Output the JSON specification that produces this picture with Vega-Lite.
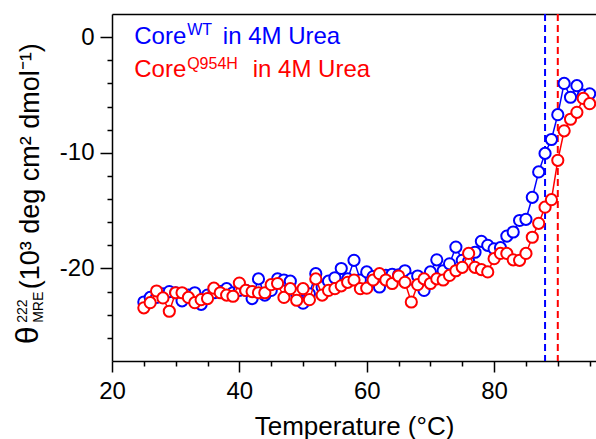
{
  "$schema": "https://vega.github.io/schema/vega-lite/v6.json",
  "width": 484,
  "height": 347,
  "autosize": {"type": "none"},
  "padding": {"left": 112, "top": 14, "right": 0, "bottom": 78},
  "background": "white",
  "config": {
    "view": {"stroke": null},
    "font": "Liberation Sans",
    "axis": {
      "labelFont": "Liberation Sans",
      "titleFont": "Liberation Sans",
      "labelFontSize": 24,
      "titleFontSize": 26,
      "titleFontWeight": "normal",
      "labelColor": "black",
      "titleColor": "black",
      "tickColor": "black",
      "tickWidth": 1.5,
      "domain": false,
      "domainColor": "black",
      "domainWidth": 1.5,
      "grid": false,
      "labelFlush": false
    }
  },
  "datasets": {
    "cd": [
      {"series": "WT", "t": 25, "v": -22.9}, {"series": "WT", "t": 26, "v": -22.5}, {"series": "WT", "t": 27, "v": -22.5}, {"series": "WT", "t": 28, "v": -22.2}, {"series": "WT", "t": 29, "v": -22.0}, {"series": "WT", "t": 30, "v": -22.1}, {"series": "WT", "t": 31, "v": -22.8}, {"series": "WT", "t": 32, "v": -22.3}, {"series": "WT", "t": 33, "v": -22.1}, {"series": "WT", "t": 34, "v": -23.1}, {"series": "WT", "t": 35, "v": -22.3}, {"series": "WT", "t": 36, "v": -22.1}, {"series": "WT", "t": 37, "v": -22.0}, {"series": "WT", "t": 38, "v": -21.75}, {"series": "WT", "t": 39, "v": -22.1}, {"series": "WT", "t": 40, "v": -21.9}, {"series": "WT", "t": 41, "v": -21.9}, {"series": "WT", "t": 42, "v": -22.6}, {"series": "WT", "t": 43, "v": -20.9}, {"series": "WT", "t": 44, "v": -22.3}, {"series": "WT", "t": 45, "v": -21.9}, {"series": "WT", "t": 46, "v": -20.9}, {"series": "WT", "t": 47, "v": -21.0}, {"series": "WT", "t": 48, "v": -21.1}, {"series": "WT", "t": 49, "v": -22.2}, {"series": "WT", "t": 50, "v": -23.0}, {"series": "WT", "t": 51, "v": -22.2}, {"series": "WT", "t": 52, "v": -20.45}, {"series": "WT", "t": 53, "v": -21.6}, {"series": "WT", "t": 54, "v": -21.1}, {"series": "WT", "t": 55, "v": -20.8}, {"series": "WT", "t": 56, "v": -20.0}, {"series": "WT", "t": 57, "v": -20.9}, {"series": "WT", "t": 58, "v": -19.3}, {"series": "WT", "t": 59, "v": -21.0}, {"series": "WT", "t": 60, "v": -20.3}, {"series": "WT", "t": 61, "v": -20.7}, {"series": "WT", "t": 62, "v": -21.6}, {"series": "WT", "t": 63, "v": -20.6}, {"series": "WT", "t": 64, "v": -20.5}, {"series": "WT", "t": 65, "v": -20.55}, {"series": "WT", "t": 66, "v": -20.2}, {"series": "WT", "t": 67, "v": -20.9}, {"series": "WT", "t": 68, "v": -20.65}, {"series": "WT", "t": 69, "v": -21.9}, {"series": "WT", "t": 70, "v": -20.3}, {"series": "WT", "t": 71, "v": -19.25}, {"series": "WT", "t": 72, "v": -20.2}, {"series": "WT", "t": 73, "v": -19.6}, {"series": "WT", "t": 74, "v": -18.15}, {"series": "WT", "t": 75, "v": -19.3}, {"series": "WT", "t": 76, "v": -19.4}, {"series": "WT", "t": 77, "v": -18.6}, {"series": "WT", "t": 78, "v": -17.65}, {"series": "WT", "t": 79, "v": -18.0}, {"series": "WT", "t": 80, "v": -18.3}, {"series": "WT", "t": 81, "v": -18.2}, {"series": "WT", "t": 82, "v": -17.2}, {"series": "WT", "t": 83, "v": -16.85}, {"series": "WT", "t": 84, "v": -15.85}, {"series": "WT", "t": 85, "v": -15.75}, {"series": "WT", "t": 86, "v": -13.85}, {"series": "WT", "t": 87, "v": -11.65}, {"series": "WT", "t": 88, "v": -10.05}, {"series": "WT", "t": 89, "v": -8.85}, {"series": "WT", "t": 90, "v": -6.7}, {"series": "WT", "t": 91, "v": -4.0}, {"series": "WT", "t": 92, "v": -5.2}, {"series": "WT", "t": 93, "v": -4.2}, {"series": "WT", "t": 94, "v": -5.0}, {"series": "WT", "t": 95, "v": -4.9},
      {"series": "Q954H", "t": 25, "v": -23.4}, {"series": "Q954H", "t": 26, "v": -22.96}, {"series": "Q954H", "t": 27, "v": -21.95}, {"series": "Q954H", "t": 28, "v": -22.55}, {"series": "Q954H", "t": 29, "v": -23.7}, {"series": "Q954H", "t": 30, "v": -22.1}, {"series": "Q954H", "t": 31, "v": -22.1}, {"series": "Q954H", "t": 32, "v": -22.5}, {"series": "Q954H", "t": 33, "v": -22.96}, {"series": "Q954H", "t": 34, "v": -22.7}, {"series": "Q954H", "t": 35, "v": -22.6}, {"series": "Q954H", "t": 36, "v": -21.7}, {"series": "Q954H", "t": 37, "v": -22.1}, {"series": "Q954H", "t": 38, "v": -22.3}, {"series": "Q954H", "t": 39, "v": -22.4}, {"series": "Q954H", "t": 40, "v": -21.26}, {"series": "Q954H", "t": 41, "v": -21.9}, {"series": "Q954H", "t": 42, "v": -22.0}, {"series": "Q954H", "t": 43, "v": -22.1}, {"series": "Q954H", "t": 44, "v": -22.1}, {"series": "Q954H", "t": 45, "v": -21.4}, {"series": "Q954H", "t": 46, "v": -21.3}, {"series": "Q954H", "t": 47, "v": -22.5}, {"series": "Q954H", "t": 48, "v": -21.75}, {"series": "Q954H", "t": 49, "v": -22.75}, {"series": "Q954H", "t": 50, "v": -21.75}, {"series": "Q954H", "t": 51, "v": -22.7}, {"series": "Q954H", "t": 52, "v": -20.9}, {"series": "Q954H", "t": 53, "v": -22.3}, {"series": "Q954H", "t": 54, "v": -21.9}, {"series": "Q954H", "t": 55, "v": -21.75}, {"series": "Q954H", "t": 56, "v": -21.5}, {"series": "Q954H", "t": 57, "v": -21.2}, {"series": "Q954H", "t": 58, "v": -21.0}, {"series": "Q954H", "t": 59, "v": -21.75}, {"series": "Q954H", "t": 60, "v": -21.7}, {"series": "Q954H", "t": 61, "v": -21.0}, {"series": "Q954H", "t": 62, "v": -20.45}, {"series": "Q954H", "t": 63, "v": -21.0}, {"series": "Q954H", "t": 64, "v": -21.3}, {"series": "Q954H", "t": 65, "v": -20.65}, {"series": "Q954H", "t": 66, "v": -21.2}, {"series": "Q954H", "t": 67, "v": -22.9}, {"series": "Q954H", "t": 68, "v": -21.4}, {"series": "Q954H", "t": 69, "v": -20.9}, {"series": "Q954H", "t": 70, "v": -21.3}, {"series": "Q954H", "t": 71, "v": -20.9}, {"series": "Q954H", "t": 72, "v": -21.0}, {"series": "Q954H", "t": 73, "v": -20.6}, {"series": "Q954H", "t": 74, "v": -20.2}, {"series": "Q954H", "t": 75, "v": -19.9}, {"series": "Q954H", "t": 76, "v": -18.7}, {"series": "Q954H", "t": 77, "v": -19.9}, {"series": "Q954H", "t": 78, "v": -20.1}, {"series": "Q954H", "t": 79, "v": -20.3}, {"series": "Q954H", "t": 80, "v": -19.15}, {"series": "Q954H", "t": 81, "v": -18.7}, {"series": "Q954H", "t": 82, "v": -18.7}, {"series": "Q954H", "t": 83, "v": -19.25}, {"series": "Q954H", "t": 84, "v": -19.3}, {"series": "Q954H", "t": 85, "v": -18.7}, {"series": "Q954H", "t": 86, "v": -17.3}, {"series": "Q954H", "t": 87, "v": -16.1}, {"series": "Q954H", "t": 88, "v": -14.7}, {"series": "Q954H", "t": 89, "v": -14.05}, {"series": "Q954H", "t": 90, "v": -10.65}, {"series": "Q954H", "t": 91, "v": -8.1}, {"series": "Q954H", "t": 92, "v": -7.1}, {"series": "Q954H", "t": 93, "v": -6.5}, {"series": "Q954H", "t": 94, "v": -5.3}, {"series": "Q954H", "t": 95, "v": -5.75}
    ],
    "one": [{}]
  },
  "data": {"name": "cd"},
  "resolve": {"axis": {"x": "independent", "y": "independent"}},
  "layer": [
    {
      "data": {"name": "one"},
      "mark": {"type": "rule", "stroke": "#0000ff", "strokeWidth": 2, "strokeDash": [7, 4]},
      "encoding": {"x": {"datum": 88, "type": "quantitative", "scale": {"domain": [20, 96], "nice": false, "zero": false}, "axis": null}}
    },
    {
      "data": {"name": "one"},
      "mark": {"type": "rule", "stroke": "#ff0000", "strokeWidth": 2, "strokeDash": [7, 4]},
      "encoding": {"x": {"datum": 90, "type": "quantitative", "scale": {"domain": [20, 96], "nice": false, "zero": false}, "axis": null}}
    },
    {
      "transform": [{"filter": "datum.series === 'WT'"}],
      "mark": {"type": "line", "stroke": "#0000ff", "strokeWidth": 1.5},
      "encoding": {
        "x": {"field": "t", "type": "quantitative", "scale": {"domain": [20, 96], "nice": false, "zero": false},
              "axis": {"orient": "bottom", "values": [20, 40, 60, 80], "tickSize": 11, "labelPadding": 7, "title": "Temperature (°C)", "titlePadding": 10, "domain": true}},
        "y": {"field": "v", "type": "quantitative", "scale": {"domain": [-28, 2], "nice": false, "zero": false},
              "axis": {"orient": "left", "values": [-20, -10, 0], "tickSize": 12, "labelPadding": 6, "title": null, "domain": true, "labelExpr": "replace(datum.label, '−', '-')"}}
      }
    },
    {
      "transform": [{"filter": "datum.series === 'WT'"}],
      "mark": {"type": "point", "shape": "circle", "size": 125, "strokeWidth": 2, "stroke": "#0000ff", "fill": "white", "opacity": 1, "fillOpacity": 1},
      "encoding": {
        "x": {"field": "t", "type": "quantitative", "scale": {"domain": [20, 96], "nice": false, "zero": false},
              "axis": {"orient": "bottom", "values": [25, 30, 35, 45, 50, 55, 65, 70, 75, 85, 90, 95], "tickSize": 5, "labels": false, "title": null}},
        "y": {"field": "v", "type": "quantitative", "scale": {"domain": [-28, 2], "nice": false, "zero": false},
              "axis": {"orient": "left", "values": [-26, -24, -22, -18, -16, -14, -12, -8, -6, -4, -2], "tickSize": 5, "labels": false, "title": null}}
      }
    },
    {
      "transform": [{"filter": "datum.series === 'Q954H'"}],
      "mark": {"type": "line", "stroke": "#ff0000", "strokeWidth": 1.5},
      "encoding": {
        "x": {"field": "t", "type": "quantitative", "scale": {"domain": [20, 96], "nice": false, "zero": false},
              "axis": {"orient": "top", "ticks": false, "labels": false, "title": null, "domain": true}},
        "y": {"field": "v", "type": "quantitative", "scale": {"domain": [-28, 2], "nice": false, "zero": false}, "axis": null}
      }
    },
    {
      "transform": [{"filter": "datum.series === 'Q954H'"}],
      "mark": {"type": "point", "shape": "circle", "size": 125, "strokeWidth": 2, "stroke": "#ff0000", "fill": "white", "opacity": 1, "fillOpacity": 1},
      "encoding": {
        "x": {"field": "t", "type": "quantitative", "scale": {"domain": [20, 96], "nice": false, "zero": false}, "axis": null},
        "y": {"field": "v", "type": "quantitative", "scale": {"domain": [-28, 2], "nice": false, "zero": false}, "axis": null}
      }
    },
    {
      "data": {"name": "one"},
      "mark": {"type": "text", "text": "Core", "fontSize": 24, "fill": "#0000ff", "align": "left", "baseline": "alphabetic"},
      "encoding": {"x": {"datum": 23.5, "type": "quantitative", "axis": null}, "y": {"datum": -0.57, "type": "quantitative", "axis": null}}
    },
    {
      "data": {"name": "one"},
      "mark": {"type": "text", "text": "WT", "fontSize": 16, "fill": "#0000ff", "align": "left", "baseline": "alphabetic"},
      "encoding": {"x": {"datum": 31.8, "type": "quantitative", "axis": null}, "y": {"datum": 0.17, "type": "quantitative", "axis": null}}
    },
    {
      "data": {"name": "one"},
      "mark": {"type": "text", "text": "in 4M Urea", "fontSize": 24, "fill": "#0000ff", "align": "left", "baseline": "alphabetic"},
      "encoding": {"x": {"datum": 37.4, "type": "quantitative", "axis": null}, "y": {"datum": -0.57, "type": "quantitative", "axis": null}}
    },
    {
      "data": {"name": "one"},
      "mark": {"type": "text", "text": "Core", "fontSize": 24, "fill": "#ff0000", "align": "left", "baseline": "alphabetic"},
      "encoding": {"x": {"datum": 23.5, "type": "quantitative", "axis": null}, "y": {"datum": -3.46, "type": "quantitative", "axis": null}}
    },
    {
      "data": {"name": "one"},
      "mark": {"type": "text", "text": "Q954H", "fontSize": 16, "fill": "#ff0000", "align": "left", "baseline": "alphabetic"},
      "encoding": {"x": {"datum": 31.8, "type": "quantitative", "axis": null}, "y": {"datum": -2.79, "type": "quantitative", "axis": null}}
    },
    {
      "data": {"name": "one"},
      "mark": {"type": "text", "text": "in 4M Urea", "fontSize": 24, "fill": "#ff0000", "align": "left", "baseline": "alphabetic"},
      "encoding": {"x": {"datum": 42.1, "type": "quantitative", "axis": null}, "y": {"datum": -3.46, "type": "quantitative", "axis": null}}
    },
    {
      "data": {"name": "one"},
      "mark": {"type": "text", "text": "θ", "fontSize": 32, "fill": "black", "align": "left", "baseline": "alphabetic", "angle": 270, "dy": -73.7},
      "encoding": {"x": {"datum": 20, "type": "quantitative", "axis": null}, "y": {"datum": -26.56, "type": "quantitative", "axis": null}}
    },
    {
      "data": {"name": "one"},
      "mark": {"type": "text", "text": "222", "fontSize": 14, "fill": "black", "align": "left", "baseline": "alphabetic", "angle": 270, "dy": -85},
      "encoding": {"x": {"datum": 20, "type": "quantitative", "axis": null}, "y": {"datum": -24.7, "type": "quantitative", "axis": null}}
    },
    {
      "data": {"name": "one"},
      "mark": {"type": "text", "text": "MRE", "fontSize": 14, "fill": "black", "align": "left", "baseline": "alphabetic", "angle": 270, "dy": -69},
      "encoding": {"x": {"datum": 20, "type": "quantitative", "axis": null}, "y": {"datum": -24.7, "type": "quantitative", "axis": null}}
    },
    {
      "data": {"name": "one"},
      "mark": {"type": "text", "text": "(10³ deg cm² dmol⁻¹)", "fontSize": 27, "fill": "black", "align": "left", "baseline": "alphabetic", "angle": 270, "dy": -73.4},
      "encoding": {"x": {"datum": 20, "type": "quantitative", "axis": null}, "y": {"datum": -21.8, "type": "quantitative", "axis": null}}
    }
  ]
}
